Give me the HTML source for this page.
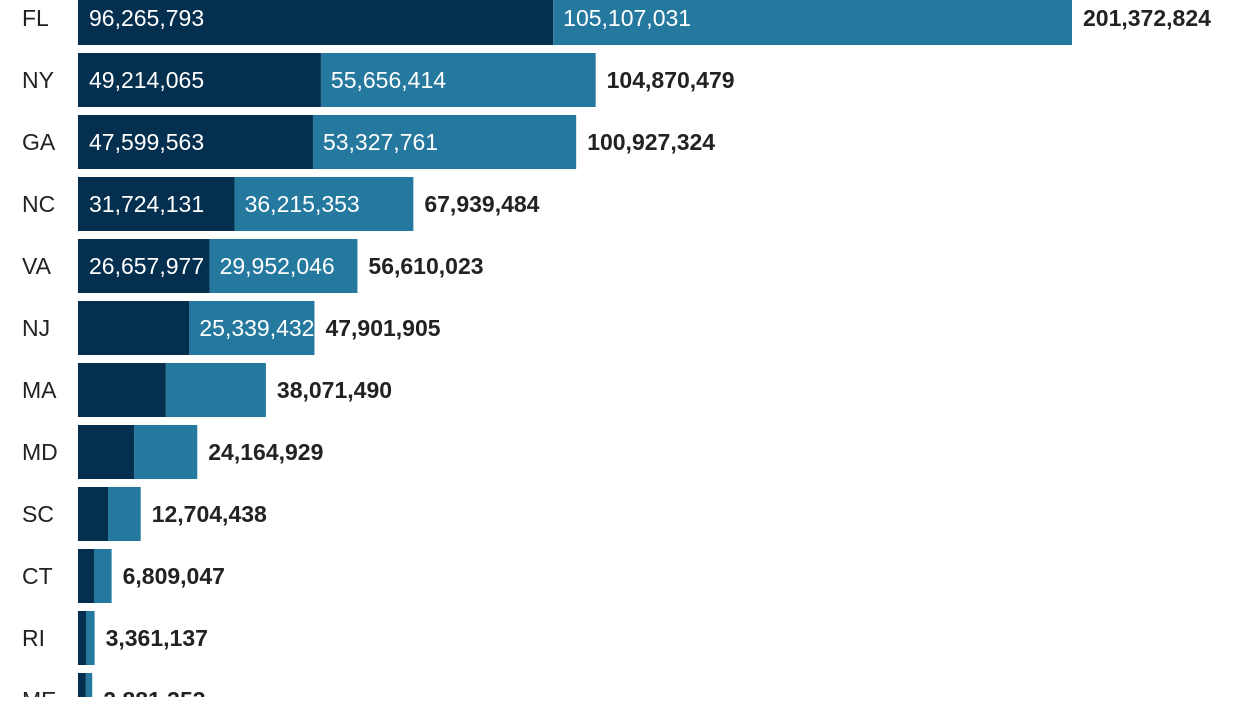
<!DOCTYPE html>
<html><head><meta charset="utf-8"><style>
body{margin:0;width:1240px;height:697px;overflow:hidden;background:#fff;font-family:"Liberation Sans",sans-serif}
svg text{font-family:"Liberation Sans",sans-serif;font-size:23px}
</style></head><body>
<svg id="chart" width="1240" height="697"></svg>
<script>
const states=["FL","NY","GA","NC","VA","NJ","MA","MD","SC","CT","RI","ME"];
const part1=[96265793,49214065,47599563,31724131,26657977,22562473,17800000,11350000,6080000,3240000,1620000,1600000];
const totals=[201372824,104870479,100927324,67939484,56610023,47901905,38071490,24164929,12704438,6809047,3361137,2881353];
const showInner=[true,true,true,true,true,"second",false,false,false,false,false,false];
const svg=document.getElementById('chart');
const NS="http://www.w3.org/2000/svg";
const x0=78, scale=994/201372824;
const xs=v=>v*scale;
const yc=i=>18+i*62;
const fmt=n=>n.toLocaleString('en-US');
function mk(tag,attrs,txt){const e=document.createElementNS(NS,tag);for(const k in attrs)e.setAttribute(k,attrs[k]);if(txt!==undefined)e.textContent=txt;svg.appendChild(e);return e;}
states.forEach((s,i)=>{
  const c=yc(i), w1=xs(part1[i]), wt=xs(totals[i]), p2=totals[i]-part1[i];
  const lab=mk('text',{x:22,y:c+8,fill:'#222'},s);
  
  
  const b1=mk('rect',{x:x0,y:c-27,width:w1,height:54,fill:'#042f4e'});
  
  
  const b2=mk('rect',{x:x0+w1,y:c-27,width:wt-w1,height:54,fill:'#26799e'});
  
  
  if(showInner[i]===true){
    const t1=mk('text',{x:x0+11,y:c+8,fill:'#fff'},fmt(part1[i]));
    
    
  }
  if(showInner[i]){
    const t2=mk('text',{x:x0+w1+10,y:c+8,fill:'#fff'},fmt(p2));
    
    
  }
  const tt=mk('text',{x:x0+wt+11,y:c+8,fill:'#222','font-weight':'bold'},fmt(totals[i]));
  
  
});
</script>
</body></html>
